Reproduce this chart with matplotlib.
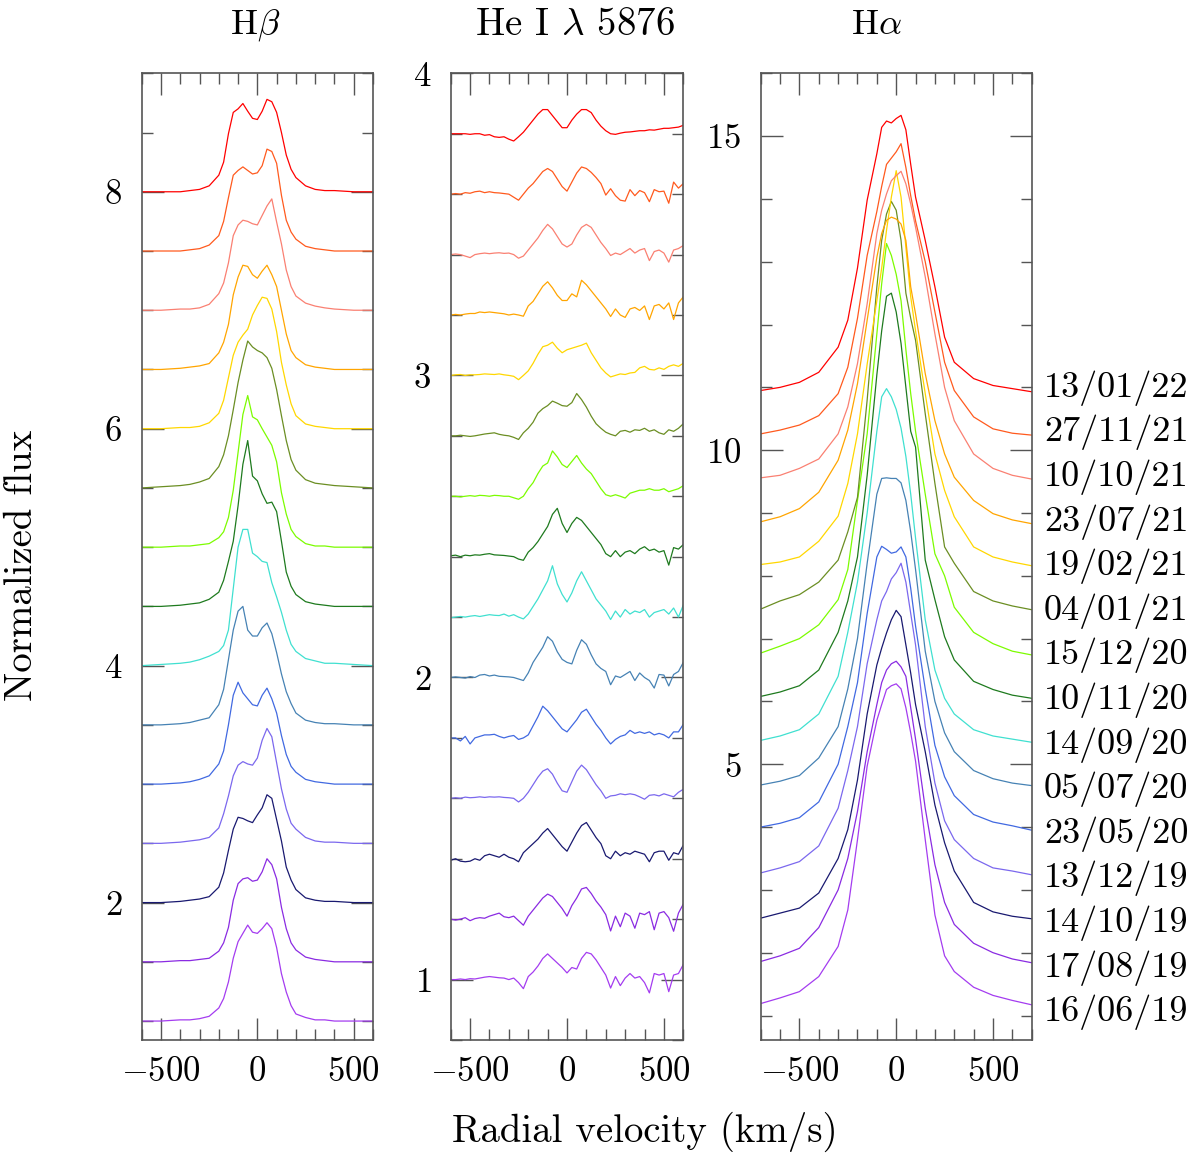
import numpy as np
import matplotlib
matplotlib.use("Agg")
import matplotlib.pyplot as plt
from matplotlib.ticker import MultipleLocator, FixedLocator

plt.rcParams["font.family"] = ["cmr10", "DejaVu Serif"]
plt.rcParams["mathtext.fontset"] = "cm"
plt.rcParams["axes.formatter.use_mathtext"] = True

# observation dates, bottom (first) to top (last)
dates = ["16/06/19", "17/08/19", "14/10/19", "13/12/19", "23/05/20",
         "05/07/20", "14/09/20", "10/11/20", "15/12/20", "04/01/21",
         "19/02/21", "23/07/21", "10/10/21", "27/11/21", "13/01/22"]
colors = ["#a43cf0", "#8a2be2", "#191970", "#7b68ee", "#4169e1",
          "#4682b4", "#40e0d0", "#1e7a1e", "#7cfc00", "#6b8e23",
          "#ffd700", "#ffa500", "#fa8072", "#ff5a1e", "#ff0000"]

# ---- H beta: line excess above the continuum ----
vel_hb = [-600, -500, -400, -350, -300, -250, -200, -175, -150, -125, -100, -75, -50, -25,
          0, 25, 50, 75, 100, 125, 150, 175, 200, 250, 300, 350, 400, 500, 600]
hb_160619 = [0, 0, 0.01, 0.01, 0.02, 0.04, 0.11, 0.19, 0.33, 0.53, 0.67, 0.74, 0.81, 0.75, 0.74,
             0.78, 0.83, 0.78, 0.62, 0.40, 0.245, 0.13, 0.06, 0.03, 0.01, 0.01, 0, 0, 0]
hb_170819 = [0, 0, 0.01, 0.01, 0.02, 0.03, 0.09, 0.16, 0.29, 0.52, 0.66, 0.70, 0.71, 0.68, 0.69,
             0.76, 0.87, 0.82, 0.70, 0.46, 0.28, 0.16, 0.10, 0.04, 0.02, 0.01, 0, 0, 0]
hb_141019 = [0, 0, 0.01, 0.02, 0.03, 0.05, 0.13, 0.25, 0.44, 0.62, 0.72, 0.71, 0.69, 0.675, 0.74,
             0.80, 0.91, 0.88, 0.70, 0.52, 0.30, 0.19, 0.11, 0.04, 0.02, 0.01, 0.01, 0, 0]
hb_131219 = [0, 0, 0.01, 0.02, 0.03, 0.05, 0.13, 0.25, 0.40, 0.57, 0.66, 0.69, 0.67, 0.66, 0.72,
             0.87, 0.97, 0.90, 0.68, 0.46, 0.29, 0.17, 0.12, 0.05, 0.02, 0.01, 0.01, 0, 0]
hb_230520 = [0, 0, 0.01, 0.02, 0.04, 0.07, 0.17, 0.28, 0.50, 0.75, 0.86, 0.77, 0.72, 0.67, 0.66,
             0.75, 0.81, 0.72, 0.60, 0.41, 0.25, 0.15, 0.10, 0.04, 0.02, 0.01, 0, 0, 0]
hb_050720 = [0, 0, 0.01, 0.02, 0.04, 0.06, 0.17, 0.30, 0.55, 0.80, 0.96, 1.00, 0.80, 0.75, 0.75,
             0.82, 0.86, 0.77, 0.61, 0.43, 0.28, 0.18, 0.10, 0.04, 0.02, 0.01, 0.01, 0, 0]
hb_140920 = [0, 0.01, 0.02, 0.03, 0.05, 0.08, 0.12, 0.17, 0.30, 0.65, 1.00, 1.15, 1.15, 0.95, 0.92,
             0.88, 0.87, 0.70, 0.58, 0.45, 0.30, 0.18, 0.12, 0.06, 0.04, 0.02, 0.02, 0.01, 0]
hb_101120 = [0, 0, 0.01, 0.02, 0.03, 0.06, 0.12, 0.22, 0.38, 0.55, 0.85, 1.20, 1.40, 1.10, 1.06,
             0.95, 0.87, 0.88, 0.80, 0.55, 0.29, 0.17, 0.10, 0.04, 0.02, 0.01, 0, 0, 0]
hb_151220 = [0, 0, 0.01, 0.01, 0.02, 0.03, 0.08, 0.13, 0.25, 0.48, 0.80, 1.12, 1.28, 1.10, 1.075,
             1.00, 0.93, 0.86, 0.72, 0.46, 0.28, 0.15, 0.09, 0.03, 0.01, 0.01, 0, 0, 0]
hb_040121 = [0, 0.01, 0.02, 0.03, 0.05, 0.08, 0.18, 0.28, 0.44, 0.66, 0.89, 1.08, 1.24, 1.19, 1.16,
             1.14, 1.10, 1.01, 0.83, 0.61, 0.40, 0.24, 0.15, 0.07, 0.04, 0.03, 0.02, 0.01, 0]
hb_190221 = [0, 0, 0.01, 0.01, 0.02, 0.05, 0.13, 0.24, 0.43, 0.62, 0.73, 0.79, 0.84, 0.96, 1.04,
             1.11, 1.10, 1.01, 0.82, 0.56, 0.37, 0.21, 0.11, 0.04, 0.02, 0.01, 0, 0, 0]
hb_230721 = [0, 0, 0.01, 0.02, 0.03, 0.05, 0.14, 0.23, 0.38, 0.63, 0.78, 0.88, 0.87, 0.80, 0.77,
             0.83, 0.88, 0.80, 0.70, 0.50, 0.30, 0.16, 0.10, 0.04, 0.02, 0.01, 0, 0, 0]
hb_101021 = [0, 0, 0.01, 0.01, 0.02, 0.05, 0.14, 0.23, 0.40, 0.63, 0.72, 0.76, 0.75, 0.73, 0.72,
             0.80, 0.88, 0.94, 0.745, 0.56, 0.34, 0.20, 0.12, 0.06, 0.035, 0.02, 0.01, 0, 0]
hb_271121 = [0, 0, 0, 0.01, 0.02, 0.05, 0.13, 0.25, 0.45, 0.64, 0.68, 0.71, 0.68, 0.65, 0.66,
             0.72, 0.86, 0.84, 0.74, 0.47, 0.26, 0.16, 0.10, 0.04, 0.02, 0.01, 0, 0, 0]
hb_130122 = [0, 0, 0, 0.01, 0.02, 0.05, 0.14, 0.25, 0.49, 0.67, 0.70, 0.745, 0.68, 0.62, 0.61,
             0.68, 0.78, 0.76, 0.67, 0.50, 0.31, 0.19, 0.12, 0.05, 0.02, 0.01, 0.01, 0, 0]

# ---- He I 5876: line excess above the continuum ----
vel_he = list(range(-600, 601, 25))
he_160619 = [0.0, 0.0, 0.002, 0.0, 0.003, 0.002, 0.005, 0.008, 0.01, 0.008, 0.006, 0.005, 0.0, 0.005,
             -0.01, -0.03, 0.01, 0.025, 0.045, 0.07, 0.085, 0.07, 0.055, 0.04, 0.022, 0.04, 0.035, 0.07,
             0.09, 0.085, 0.065, 0.04, 0.015, -0.028, 0.01, -0.02, 0.005, 0.02, 0.005, 0.01, -0.01, -0.044,
             0.02, 0.015, 0.02, -0.04, 0.015, 0.02, 0.05]
he_170819 = [0.0, -0.003, 0.0, 0.005, -0.005, 0.002, 0.005, 0.003, 0.01, 0.015, 0.02, 0.008, 0.005, 0.01,
             -0.005, -0.02, 0.01, 0.03, 0.05, 0.07, 0.083, 0.075, 0.055, 0.035, 0.01, 0.045, 0.07, 0.10,
             0.105, 0.085, 0.06, 0.04, 0.015, -0.039, 0.01, -0.025, 0.02, 0.01, -0.03, 0.02, 0.015, 0.025,
             -0.035, 0.02, 0.025, 0.005, -0.04, 0.02, 0.05]
he_141019 = [-0.005, 0.0, -0.008, -0.01, -0.008, 0.0, -0.005, 0.01, 0.015, 0.01, 0.005, 0.015, 0.005, 0.0,
             -0.01, 0.02, 0.035, 0.05, 0.065, 0.085, 0.10, 0.08, 0.06, 0.04, 0.025, 0.055, 0.085, 0.11,
             0.12, 0.095, 0.07, 0.05, 0.01, 0.0, 0.025, 0.01, 0.02, 0.015, 0.025, 0.02, 0.015, -0.01,
             0.02, 0.025, 0.025, -0.005, 0.02, 0.015, 0.045]
he_131219 = [0.0, 0.002, 0.0, 0.004, 0.002, 0.003, 0.005, 0.003, 0.005, 0.004, 0.005, 0.003, 0.002, 0.0,
             -0.012, 0.0, 0.02, 0.045, 0.07, 0.09, 0.098, 0.08, 0.05, 0.025, 0.02, 0.055, 0.09, 0.11,
             0.095, 0.07, 0.045, 0.025, 0.0, 0.008, 0.01, 0.015, 0.012, 0.015, 0.012, 0.005, -0.003, 0.01,
             0.012, 0.008, 0.015, 0.01, 0.005, 0.02, 0.03]
he_230520 = [0.0, 0.0, -0.01, 0.005, -0.02, 0.0, 0.005, 0.01, 0.01, 0.012, 0.005, 0.0, 0.005, 0.008,
             -0.005, 0.0, 0.01, 0.04, 0.07, 0.105, 0.09, 0.07, 0.05, 0.03, 0.02, 0.04, 0.06, 0.085,
             0.095, 0.07, 0.045, 0.025, 0.0, -0.02, -0.005, 0.005, 0.01, 0.025, 0.015, 0.02, 0.015, 0.02,
             0.01, 0.015, 0.01, 0.0, 0.02, 0.02, 0.045]
he_050720 = [0.0, 0.002, 0.0, -0.002, 0.003, 0.0, 0.008, 0.01, 0.005, 0.008, 0.004, 0.003, 0.002, 0.0,
             -0.005, -0.01, 0.015, 0.05, 0.075, 0.10, 0.135, 0.12, 0.085, 0.06, 0.05, 0.045, 0.09, 0.125,
             0.11, 0.075, 0.045, 0.03, 0.02, -0.024, 0.005, 0.0, 0.01, 0.02, -0.01, 0.015, 0.0, -0.01,
             -0.035, 0.01, 0.008, -0.028, 0.01, 0.02, 0.05]
he_140920 = [-0.002, 0.0, 0.002, 0.0, 0.003, 0.005, 0.002, 0.005, 0.008, 0.006, 0.005, 0.01, 0.003, 0.008,
             0.0, -0.006, 0.01, 0.035, 0.06, 0.09, 0.12, 0.17, 0.11, 0.075, 0.05, 0.08, 0.12, 0.15,
             0.12, 0.09, 0.06, 0.04, 0.02, -0.008, 0.02, 0.0, 0.025, 0.01, 0.02, 0.015, 0.025, 0.0,
             0.015, 0.02, 0.025, 0.01, 0.03, 0.0, 0.04]
he_101120 = [0.003, 0.005, 0.0, 0.005, 0.003, 0.006, 0.005, 0.008, 0.01, 0.006, 0.005, 0.004, 0.002, 0.0,
             -0.008, -0.012, 0.015, 0.03, 0.05, 0.075, 0.10, 0.14, 0.16, 0.11, 0.08, 0.11, 0.13, 0.12,
             0.10, 0.08, 0.06, 0.04, 0.01, 0.0, 0.02, 0.0, 0.015, 0.02, 0.01, 0.025, 0.033, 0.02,
             0.025, 0.015, 0.02, -0.028, 0.03, 0.025, 0.04]
he_151220 = [0.0, 0.0, -0.002, 0.0, 0.002, 0.0, 0.003, 0.002, 0.0, 0.003, 0.002, 0.0, 0.0, -0.005,
             -0.01, 0.0, 0.025, 0.045, 0.075, 0.10, 0.11, 0.15, 0.13, 0.105, 0.095, 0.115, 0.135, 0.11,
             0.09, 0.075, 0.05, 0.025, 0.005, 0.0, 0.005, 0.0, -0.006, 0.01, 0.015, 0.02, 0.02, 0.025,
             0.02, 0.02, 0.025, 0.015, 0.02, 0.025, 0.035]
he_040121 = [0.0, 0.0, 0.002, 0.0, -0.002, 0.0, 0.003, 0.006, 0.008, 0.01, 0.005, 0.002, 0.0, -0.005,
             -0.012, 0.01, 0.025, 0.045, 0.075, 0.09, 0.10, 0.115, 0.108, 0.10, 0.098, 0.11, 0.14, 0.12,
             0.095, 0.065, 0.04, 0.025, 0.012, 0.005, 0.0, 0.015, 0.018, 0.012, 0.02, 0.018, 0.025, 0.015,
             0.02, 0.01, 0.005, 0.02, 0.015, 0.025, 0.04]
he_190221 = [0.0, 0.002, 0.003, 0.0, 0.002, 0.002, 0.003, 0.005, 0.004, 0.003, 0.005, 0.002, 0.0, -0.003,
             -0.014, 0.0, 0.015, 0.04, 0.07, 0.095, 0.10, 0.11, 0.09, 0.075, 0.085, 0.09, 0.095, 0.10,
             0.107, 0.075, 0.05, 0.025, 0.008, -0.005, 0.0, 0.005, 0.003, 0.008, 0.01, 0.025, 0.03, 0.02,
             0.018, 0.025, 0.02, 0.03, 0.035, 0.03, 0.04]
he_230721 = [0.0, 0.002, 0.0, 0.003, 0.005, 0.005, 0.01, 0.008, 0.01, 0.008, 0.006, 0.004, 0.0, 0.003,
             0.0, -0.004, 0.03, 0.045, 0.07, 0.095, 0.11, 0.09, 0.065, 0.048, 0.048, 0.07, 0.06, 0.115,
             0.10, 0.08, 0.06, 0.04, 0.02, -0.005, 0.02, 0.0, -0.008, 0.02, 0.025, 0.015, 0.03, -0.015,
             0.03, 0.035, 0.02, 0.04, -0.015, 0.04, 0.06]
he_101021 = [0.0, 0.002, 0.0, -0.005, -0.01, 0.0, 0.003, 0.005, 0.003, 0.005, 0.006, 0.004, 0.005, 0.0,
             -0.012, -0.005, 0.015, 0.035, 0.055, 0.08, 0.10, 0.085, 0.06, 0.035, 0.025, 0.035, 0.065, 0.09,
             0.10, 0.09, 0.065, 0.04, 0.02, -0.003, 0.005, 0.0, 0.01, 0.02, 0.005, 0.015, 0.02, -0.02,
             0.01, 0.015, 0.005, -0.025, 0.015, 0.02, 0.03]
he_271121 = [0.0, 0.002, 0.0, 0.005, 0.003, 0.008, 0.01, 0.005, 0.008, 0.005, 0.004, 0.002, 0.0, -0.01,
             -0.02, 0.0, 0.02, 0.035, 0.055, 0.075, 0.085, 0.075, 0.05, 0.025, 0.01, 0.04, 0.07, 0.09,
             0.085, 0.072, 0.055, 0.035, -0.003, 0.018, -0.005, -0.02, -0.023, 0.015, -0.005, 0.012, 0.005, -0.025,
             0.015, 0.008, 0.01, -0.03, 0.04, 0.02, 0.035]
he_130122 = [0.0, 0.0, 0.0, 0.0, -0.002, 0.0, 0.0, -0.005, -0.003, -0.01, -0.012, -0.01, -0.018, -0.024,
             -0.01, 0.005, 0.025, 0.045, 0.065, 0.08, 0.08, 0.06, 0.04, 0.02, 0.02, 0.045, 0.065, 0.08,
             0.08, 0.07, 0.045, 0.025, 0.01, 0.0, -0.002, 0.002, 0.005, 0.006, 0.008, 0.01, 0.01, 0.013,
             0.012, 0.015, 0.018, 0.018, 0.02, 0.022, 0.028]

# ---- H alpha: normalized flux ----
vel_ha = [-700, -600, -500, -400, -300, -250, -200, -150, -100, -75, -50, -25, 0,
          25, 50, 75, 100, 150, 200, 250, 300, 400, 500, 600, 700]
ha_160619 = [1.19, 1.28, 1.38, 1.62, 2.10, 2.68, 3.80, 4.97, 5.70, 5.95, 6.19, 6.25, 6.28,
             6.20, 5.90, 5.50, 5.05, 3.80, 2.60, 1.95, 1.70, 1.45, 1.32, 1.24, 1.17]
ha_170819 = [1.16, 1.25, 1.37, 1.70, 2.30, 2.80, 3.55, 4.50, 5.25, 5.60, 5.80, 5.90, 5.94,
             5.85, 5.70, 5.20, 4.70, 3.60, 2.70, 2.10, 1.75, 1.45, 1.30, 1.20, 1.14]
ha_141019 = [1.15, 1.23, 1.31, 1.55, 2.10, 2.56, 3.35, 4.40, 5.18, 5.45, 5.69, 5.90, 6.05,
             5.95, 5.50, 5.05, 4.55, 3.80, 2.95, 2.35, 1.90, 1.40, 1.25, 1.18, 1.14]
ha_131219 = [1.17, 1.25, 1.35, 1.60, 2.20, 2.80, 3.50, 4.50, 5.20, 5.50, 5.65, 5.85, 5.95,
             6.10, 5.80, 5.30, 4.80, 3.50, 2.60, 2.00, 1.70, 1.40, 1.25, 1.20, 1.14]
ha_230520 = [1.20, 1.26, 1.35, 1.60, 2.20, 2.80, 3.50, 4.60, 5.50, 5.67, 5.62, 5.56, 5.58,
             5.66, 5.50, 5.00, 4.40, 3.40, 2.50, 2.00, 1.70, 1.40, 1.28, 1.22, 1.15]
ha_050720 = [1.17, 1.23, 1.32, 1.60, 2.10, 2.70, 3.50, 4.70, 5.80, 6.05, 6.06, 6.05, 6.05,
             5.98, 5.70, 5.20, 4.60, 3.30, 2.50, 2.00, 1.70, 1.40, 1.27, 1.20, 1.16]
ha_140920 = [1.18, 1.25, 1.35, 1.60, 2.20, 2.90, 3.70, 4.80, 6.10, 6.65, 6.78, 6.65, 6.45,
             6.15, 5.70, 5.10, 4.40, 3.10, 2.30, 1.85, 1.60, 1.35, 1.25, 1.20, 1.15]
ha_101120 = [1.18, 1.25, 1.35, 1.60, 2.20, 2.70, 3.40, 4.70, 6.30, 7.00, 7.55, 7.60, 7.30,
             6.80, 6.10, 5.40, 5.15, 3.35, 2.72, 2.13, 1.76, 1.42, 1.29, 1.20, 1.15]
ha_151220 = [1.17, 1.28, 1.40, 1.62, 2.02, 2.50, 3.60, 4.66, 6.25, 7.05, 7.69, 7.50, 7.20,
             6.78, 6.00, 5.30, 4.70, 3.70, 2.75, 2.40, 1.90, 1.50, 1.32, 1.20, 1.14]
ha_040121 = [1.17, 1.30, 1.40, 1.60, 1.95, 2.40, 2.95, 4.50, 6.30, 7.04, 7.46, 7.66, 7.52,
             7.04, 6.20, 5.80, 5.45, 4.28, 3.17, 2.16, 1.90, 1.45, 1.30, 1.22, 1.16]
ha_190221 = [1.18, 1.22, 1.30, 1.55, 1.95, 2.47, 3.26, 4.37, 5.38, 5.90, 6.50, 7.03, 7.45,
             7.03, 6.23, 5.44, 4.90, 3.90, 2.94, 2.36, 1.94, 1.46, 1.30, 1.22, 1.16]
ha_230721 = [1.16, 1.24, 1.37, 1.63, 2.14, 2.62, 3.36, 4.37, 5.37, 5.75, 5.96, 6.01, 5.98,
             5.90, 5.64, 4.90, 4.47, 3.52, 2.77, 2.24, 1.87, 1.50, 1.29, 1.19, 1.13]
ha_101021 = [1.16, 1.20, 1.31, 1.46, 1.86, 2.29, 2.98, 3.93, 5.05, 5.42, 5.68, 5.89, 5.97,
             6.04, 5.84, 5.52, 5.15, 4.36, 3.45, 2.60, 2.07, 1.54, 1.31, 1.20, 1.14]
ha_271121 = [1.16, 1.22, 1.30, 1.45, 1.80, 2.22, 3.00, 4.00, 4.70, 5.10, 5.45, 5.55, 5.65,
             5.78, 5.40, 4.95, 4.55, 3.90, 3.10, 2.30, 1.85, 1.43, 1.24, 1.17, 1.14]
ha_130122 = [1.15, 1.20, 1.28, 1.44, 1.84, 2.27, 3.10, 4.18, 4.92, 5.34, 5.44, 5.41, 5.48,
             5.53, 5.30, 4.75, 4.23, 3.54, 2.80, 2.00, 1.60, 1.34, 1.23, 1.18, 1.13]

hb_profiles = [hb_160619, hb_170819, hb_141019, hb_131219, hb_230520, hb_050720, hb_140920,
               hb_101120, hb_151220, hb_040121, hb_190221, hb_230721, hb_101021, hb_271121, hb_130122]
he_profiles = [he_160619, he_170819, he_141019, he_131219, he_230520, he_050720, he_140920,
               he_101120, he_151220, he_040121, he_190221, he_230721, he_101021, he_271121, he_130122]
ha_profiles = [ha_160619, ha_170819, ha_141019, ha_131219, ha_230520, ha_050720, ha_140920,
               ha_101120, ha_151220, ha_040121, ha_190221, ha_230721, ha_101021, ha_271121, ha_130122]

# vertical shift between consecutive epochs
hb_step, he_step, ha_step = 0.5, 0.2, 0.7

FRAME = "#555555"
W, H = 1200, 1155
fig = plt.figure(figsize=(W / 100, H / 100), dpi=100)


def px_axes(x0, x1, y0=73.3, y1=1040):
    return fig.add_axes([x0 / W, 1 - y1 / H, (x1 - x0) / W, (y1 - y0) / H])


ax_hb = px_axes(141.7, 373.0)
ax_he = px_axes(450.7, 683.3)
ax_ha = px_axes(760.7, 1031.7)

for i in range(len(dates)):
    ax_hb.plot(vel_hb, 1 + np.array(hb_profiles[i]) + i * hb_step, color=colors[i], lw=0.9)
    ax_he.plot(vel_he, 1 + np.array(he_profiles[i]) + i * he_step, color=colors[i], lw=0.9)
    ax_ha.plot(vel_ha, np.array(ha_profiles[i]) + i * ha_step, color=colors[i], lw=0.9)
    ax_ha.text(1.045, 1.05 + i * 0.71, dates[i], transform=ax_ha.get_yaxis_transform(),
               fontsize=26, va="center", ha="left")

setup = [
    (ax_hb, (-600, 600), (0.84, 9.0), [2, 4, 6, 8], 0.5),
    (ax_he, (-600, 600), (0.80, 4.0001), [1, 2, 3, 4], 0.2),
    (ax_ha, (-700, 700), (0.61, 16.0), [5, 10, 15], 1.0),
]
for ax, xl, yl, ymaj, ymin in setup:
    ax.set_xlim(*xl)
    ax.set_ylim(*yl)
    ax.xaxis.set_major_locator(FixedLocator([-500, 0, 500]))
    ax.xaxis.set_minor_locator(MultipleLocator(100))
    ax.yaxis.set_major_locator(FixedLocator(ymaj))
    ax.yaxis.set_minor_locator(MultipleLocator(ymin))
    ax.tick_params(which="both", direction="in", top=True, right=True,
                   color=FRAME, width=1.0, labelsize=25)
    ax.tick_params(which="major", length=16)
    ax.tick_params(which="minor", length=8)
    ax.tick_params(axis="y", pad=14)
    ax.tick_params(axis="x", pad=12)
    for sp in ax.spines.values():
        sp.set_color(FRAME)
        sp.set_linewidth(1.2)

fig.text(255 / W, 1 - 25 / H, r"H$\beta$", fontsize=26, ha="center", va="center")
fig.text(575 / W, 1 - 25 / H, r"He I $\lambda$ 5876", fontsize=28, ha="center", va="center")
fig.text(876 / W, 1 - 25 / H, r"H$\alpha$", fontsize=26, ha="center", va="center")
fig.text(22 / W, 1 - 565 / H, "Normalized flux", fontsize=28, rotation=90,
         ha="center", va="center")
fig.text(645 / W, 1 - 1132 / H, "Radial velocity (km/s)", fontsize=28,
         ha="center", va="center")

fig.savefig("out.png", dpi=100)
